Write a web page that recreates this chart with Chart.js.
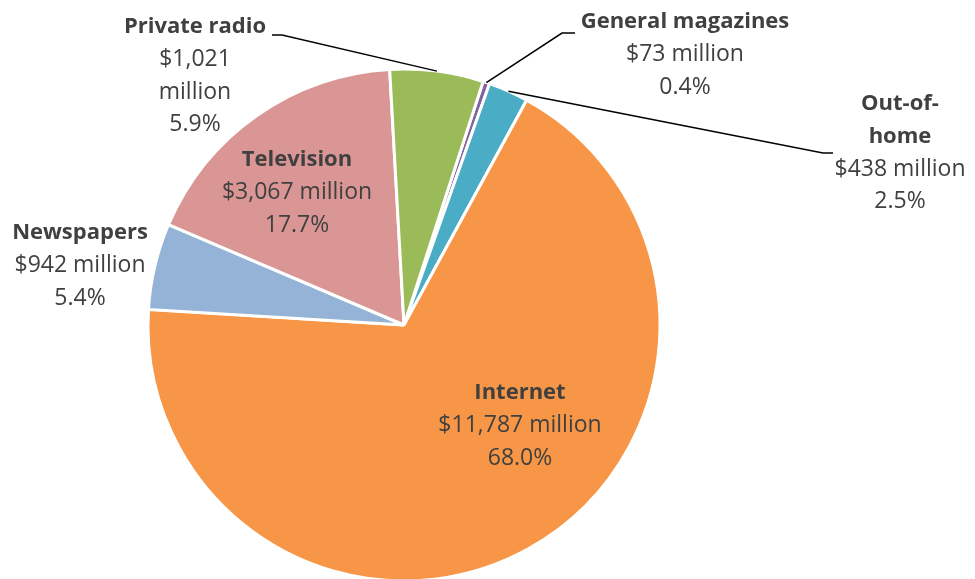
<!DOCTYPE html>
<html>
<head>
<meta charset="utf-8">
<script src="https://cdn.jsdelivr.net/npm/chart.js@4/dist/chart.umd.min.js"></script>
<style>
  html, body { margin: 0; padding: 0; background: #fff; overflow: hidden; }
  #wrap { width: 975px; height: 579px; overflow: hidden; }
</style>
</head>
<body>
<div id="wrap"><canvas id="pieChart" width="975" height="600"></canvas></div>
<script>
// Advertising spending by medium ($ millions)
const categories = ['General magazines', 'Out-of-home', 'Internet', 'Newspapers', 'Television', 'Private radio'];
const spending = [73, 438, 11787, 942, 3067, 1021];
const shares = [0.4, 2.5, 68.0, 5.4, 17.7, 5.9];
const nameLines = [['General magazines'], ['Out-of-', 'home'], ['Internet'], ['Newspapers'], ['Television'], ['Private radio']];
const sliceColors = ['#8064A2', '#4BACC6', '#F79646', '#95B3D7', '#D99694', '#9BBB59'];

// where each label sits, and the elbow of its leader line (if any)
const labelLayout = [
  { x: 685, y: 22, elbow: [562, 33], end: [575, 33] },
  { x: 900, y: 104, elbow: [823, 153], end: [833, 153] },
  { x: 520, y: 393 },
  { x: 80, y: 233 },
  { x: 297, y: 160 },
  { x: 195, y: 27, elbow: [282, 35], end: [272, 35], wrapValue: true }
];

const FONT = '"Open Sans", "Liberation Sans", sans-serif';
const TEXT_COLOR = '#404040';
const LINE_H = 32.5;

const labelPlugin = {
  id: 'sliceLabels',
  afterDatasetsDraw(chart) {
    const ctx = chart.ctx;
    const arcs = chart.getDatasetMeta(0).data;
    ctx.save();
    arcs.forEach((arc, i) => {
      const lay = labelLayout[i];
      // leader line from the slice edge
      if (lay.elbow) {
        const mid = (arc.startAngle + arc.endAngle) / 2;
        const sx = arc.x + Math.cos(mid) * arc.outerRadius;
        const sy = arc.y + Math.sin(mid) * arc.outerRadius;
        ctx.beginPath();
        ctx.moveTo(sx, sy);
        ctx.lineTo(lay.elbow[0], lay.elbow[1]);
        ctx.lineTo(lay.end[0], lay.end[1]);
        ctx.strokeStyle = '#000';
        ctx.lineWidth = 1.5;
        ctx.stroke();
      }
      const valueText = '$' + spending[i].toLocaleString('en-US') + ' million';
      const valueLines = lay.wrapValue ? valueText.split(' ') : [valueText];
      const lines = [];
      nameLines[i].forEach(t => lines.push({ t, bold: true }));
      valueLines.forEach(t => lines.push({ t, bold: false }));
      lines.push({ t: shares[i].toFixed(1) + '%', bold: false });

      ctx.fillStyle = TEXT_COLOR;
      ctx.textAlign = 'center';
      ctx.textBaseline = 'middle';
      lines.forEach((ln, k) => {
        ctx.font = ln.bold ? 'bold 22px ' + FONT : '23px ' + FONT;
        ctx.fillText(ln.t, lay.x, lay.y + k * LINE_H);
      });
    });
    ctx.restore();
  }
};

const pieCtx = document.getElementById('pieChart').getContext('2d');
const pieChart = new Chart(pieCtx, {
  type: 'pie',
  data: {
    labels: categories,
    datasets: [{
      data: spending,
      backgroundColor: sliceColors,
      borderColor: '#fff',
      borderWidth: 3
    }]
  },
  options: {
    responsive: false,
    animation: false,
    devicePixelRatio: 1,
    rotation: 18,
    radius: 256,
    layout: { padding: { left: 148, right: 315, top: 69, bottom: 19 } },
    plugins: {
      legend: { display: false },
      tooltip: { enabled: false }
    }
  },
  plugins: [labelPlugin]
});
</script>
</body>
</html>
